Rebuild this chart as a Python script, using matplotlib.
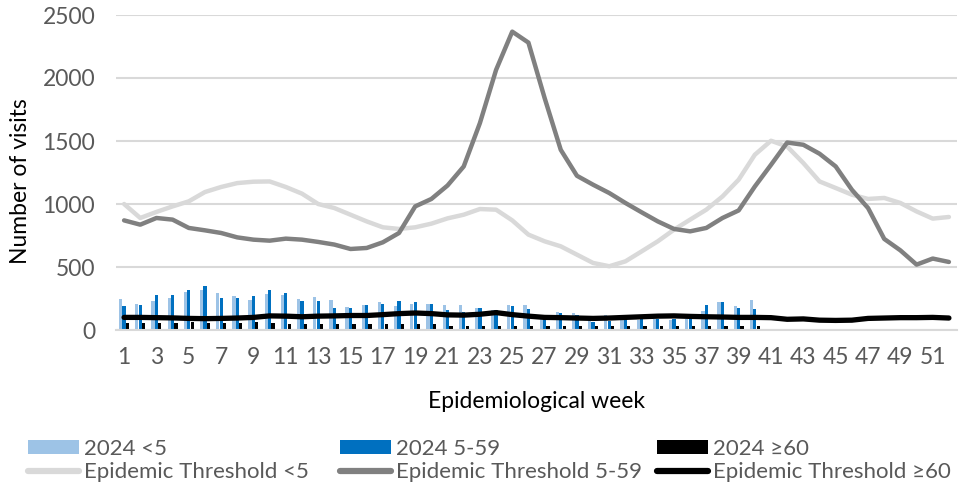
import matplotlib
matplotlib.use("Agg")
import matplotlib.pyplot as plt
from matplotlib.patches import Patch
from matplotlib.lines import Line2D
import numpy as np

plt.rcParams['font.family'] = ['Lato', 'DejaVu Sans']

weeks = list(range(1, 53))
bar_weeks = list(range(1, 41))

visits_u5 = [247, 210, 228, 255, 305, 318, 292, 271, 242, 289,
             281, 247, 258, 239, 181, 200, 223, 189, 210, 210,
             200, 200, 176, 162, 200, 200, 110, 141, 131, 104,
             123, 78, 83, 85, 78, 85, 152, 220, 194, 236]
visits_5_59 = [189, 200, 279, 276, 318, 353, 255, 255, 268, 321,
               297, 234, 231, 173, 173, 202, 205, 234, 226, 208,
               162, 140, 176, 162, 189, 170, 100, 133, 120, 60,
               70, 83, 90, 90, 90, 85, 202, 223, 173, 170]
visits_60 = [57, 52, 57, 57, 62, 57, 57, 57, 60, 57,
             46, 46, 46, 46, 46, 46, 46, 46, 46, 46,
             35, 35, 35, 35, 35, 35, 35, 35, 35, 35,
             35, 35, 35, 35, 35, 35, 35, 35, 35, 35]

thr_u5 = [1000, 889, 937, 981, 1021, 1095, 1135, 1166, 1177, 1179,
          1135, 1082, 1000, 968, 915, 862, 815, 802, 815, 844,
          886, 915, 960, 955, 870, 757, 704, 664, 598, 532,
          506, 545, 624, 704, 796, 876, 955, 1060, 1193, 1391,
          1502, 1456, 1325, 1179, 1127, 1074, 1040, 1048, 1008, 941,
          884, 897]
thr_5_59 = [870, 836, 889, 876, 810, 791, 770, 735, 717, 709,
            725, 717, 699, 678, 643, 651, 696, 770, 981, 1040,
            1147, 1298, 1642, 2064, 2368, 2281, 1842, 1430, 1224, 1153,
            1087, 1008, 934, 862, 802, 783, 810, 889, 949, 1139,
            1311, 1488, 1470, 1399, 1298, 1113, 968, 723, 632, 519,
            567, 540]
thr_60 = [100, 100, 98, 96, 92, 90, 92, 95, 100, 112,
          110, 105, 110, 112, 115, 115, 122, 130, 135, 130,
          120, 118, 125, 138, 122, 110, 100, 98, 95, 92,
          95, 100, 105, 110, 112, 108, 105, 103, 100, 100,
          98, 85, 88, 78, 76, 78, 92, 95, 98, 98,
          100, 95]

x_ticks = list(range(1, 52, 2))
y_ticks = [0, 500, 1000, 1500, 2000, 2500]

c_lb = '#9DC3E6'
c_b = '#0070C0'
c_k = '#000000'
c_t1 = '#D9D9D9'
c_t2 = '#808080'
c_t3 = '#000000'
grid_c = '#D9D9D9'
txt_c = '#595959'

fig = plt.figure(figsize=(9.62, 4.86), dpi=100)
ax = fig.add_axes([116/962, (486-330)/486, (957-116)/962, (330-15)/486])

bx = np.array(bar_weeks, dtype=float)
w = 0.2
ax.bar(bx - 0.21, visits_u5, width=w, color=c_lb, zorder=2)
ax.bar(bx, visits_5_59, width=w, color=c_b, zorder=2)
ax.bar(bx + 0.21, visits_60, width=w, color=c_k, zorder=2)

ax.plot(weeks, thr_u5, color=c_t1, lw=3.2, solid_joinstyle='round', solid_capstyle='round', zorder=3)
ax.plot(weeks, thr_5_59, color=c_t2, lw=3.2, solid_joinstyle='round', solid_capstyle='round', zorder=3)
ax.plot(weeks, thr_60, color=c_t3, lw=3.8, solid_joinstyle='round', solid_capstyle='round', zorder=4)

ax.set_xlim(0.5, 52.5)
ax.set_ylim(0, 2500)
ax.set_yticks(y_ticks)
ax.set_xticks(x_ticks)
ax.set_xticklabels([str(v) for v in x_ticks])
ax.tick_params(axis='both', length=0, labelsize=16.5, colors=txt_c)
ax.tick_params(axis='y', pad=15)
ax.tick_params(axis='x', pad=12)
ax.yaxis.grid(True, color=grid_c, lw=1.5, zorder=0)
ax.set_axisbelow(True)
for s in ['top', 'right', 'left']:
    ax.spines[s].set_visible(False)
ax.spines['bottom'].set_color(grid_c)
ax.spines['bottom'].set_linewidth(1.5)

ax.set_ylabel('Number of visits', fontsize=16.5, color='black')
ax.yaxis.set_label_coords(-0.101, 0.473)
ax.set_xlabel('Epidemiological week', fontsize=16.5, color='black', labelpad=17)

legend_groups = [
    ([Patch(facecolor=c_lb, edgecolor='none'), Line2D([], [], color=c_t1, lw=4.5, solid_capstyle='round')],
     ['2024 <5', 'Epidemic Threshold <5'], 28),
    ([Patch(facecolor=c_b, edgecolor='none'), Line2D([], [], color=c_t2, lw=4.5, solid_capstyle='round')],
     ['2024 5-59', 'Epidemic Threshold 5-59'], 340),
    ([Patch(facecolor=c_k, edgecolor='none'), Line2D([], [], color=c_t3, lw=4.5, solid_capstyle='round')],
     ['2024 \u226560', 'Epidemic Threshold \u226560'], 657),
]
for handles, labels, xpix in legend_groups:
    leg = fig.legend(handles, labels, loc='upper left',
                     bbox_to_anchor=(xpix/962, (486-439)/486),
                     frameon=False, fontsize=16, handlelength=2.3,
                     handleheight=0.55, handletextpad=0.22, labelspacing=0.14,
                     borderpad=0, borderaxespad=0)
    for t in leg.get_texts():
        t.set_color(txt_c)

fig.savefig('out.png', dpi=100)
